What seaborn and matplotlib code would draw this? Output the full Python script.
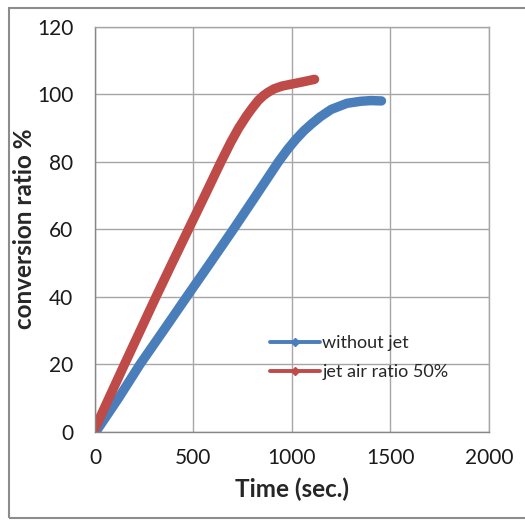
import pandas as pd
import matplotlib.pyplot as plt
import seaborn as sns
from matplotlib.lines import Line2D
from matplotlib.patches import Rectangle

# values
time_without_jet = [8, 120, 229, 348, 466, 585, 703, 818, 932, 980, 1020, 1060,
                    1100, 1144, 1200, 1280, 1350, 1400, 1455]
ratio_without_jet = [0.3, 10, 20, 30, 40, 50, 60, 70, 80, 83.8, 86.6, 89.1,
                     91.2, 93.3, 95.5, 97.3, 97.9, 98.1, 98.0]

time_jet = [0, 75, 150, 230, 310, 392, 475, 558, 640, 690, 730, 770, 800, 830,
            856, 880, 910, 950, 1000, 1060, 1115]
ratio_jet = [1, 10.5, 20, 30, 40, 50, 60, 70, 80, 85.8, 90, 93.6, 96, 98.2,
             99.6, 100.6, 101.6, 102.4, 103, 103.7, 104.4]

series_names = ["without jet", "jet air ratio 50%"]
series_colors = ["#4a7ebb", "#be4b48"]

df = pd.concat([
    pd.DataFrame({"time": time_without_jet, "ratio": ratio_without_jet, "series": series_names[0]}),
    pd.DataFrame({"time": time_jet, "ratio": ratio_jet, "series": series_names[1]}),
])

sns.set_style("whitegrid")
plt.rcParams['font.family'] = ['Lato', 'DejaVu Sans']

fig = plt.figure(figsize=(5.25, 5.21), dpi=100)
ax = fig.add_axes([0.181, 0.1714, 0.750, 0.7774])

sns.lineplot(data=df, x="time", y="ratio", hue="series", sort=False,
             palette=dict(zip(series_names, series_colors)), legend=False,
             linewidth=6.8, solid_capstyle="round", solid_joinstyle="round", ax=ax)

ax.set_xlim(0, 2000)
ax.set_ylim(0, 120)
ax.set_xticks(range(0, 2001, 500))
ax.set_yticks(range(0, 121, 20))

ax.grid(True, color="#a6a6a6", linewidth=1.0)
for side in ["top", "right"]:
    ax.spines[side].set_color("#a6a6a6")
    ax.spines[side].set_linewidth(1.0)
for side in ["left", "bottom"]:
    ax.spines[side].set_color("#868686")
    ax.spines[side].set_linewidth(1.0)

ax.tick_params(axis="both", which="major", length=5, width=1.0, color="#868686",
               labelsize=15, labelcolor="#1a1a1a", direction="out")
ax.tick_params(axis="y", pad=10.5)
ax.tick_params(axis="x", pad=6.5)

ax.set_xlabel("Time (sec.)", fontsize=17.5, fontweight="bold", labelpad=7)
ax.set_ylabel("conversion ratio %", fontsize=17.5, fontweight="bold", labelpad=1)

handles = [Line2D([], [], color=c, lw=2.8, marker="D", markersize=4)
           for c in series_colors]
ax.legend(handles, series_names, loc="center left", bbox_to_anchor=(0.444, 0.183),
          frameon=False, fontsize=13, handlelength=2.75, handletextpad=0.15,
          labelspacing=0.7, borderpad=0, borderaxespad=0)

# outer chart-area border (cut off on the right like the reference)
fig.patches.append(Rectangle((9 / 525, 3 / 521), 1.05, 510 / 521,
                             transform=fig.transFigure, fill=False,
                             edgecolor="#8c8c8c", linewidth=1.5, clip_on=False))

fig.savefig("out.png", dpi=100)
